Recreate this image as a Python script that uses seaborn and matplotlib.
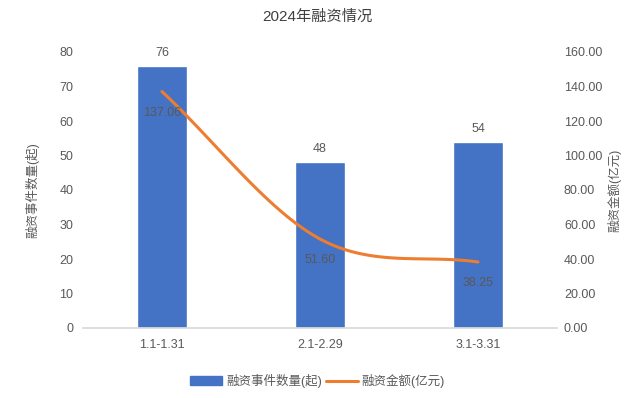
import numpy as np
import matplotlib
matplotlib.use("Agg")
import matplotlib.pyplot as plt
import seaborn as sns
from matplotlib.patches import Patch
from matplotlib.lines import Line2D

# Data
periods = ["1.1-1.31", "2.1-2.29", "3.1-3.31"]
counts = [76, 48, 54]
amounts = [137.06, 51.60, 38.25]

bar_color = "#4472C4"
line_color = "#ED7D31"
text_color = "#595959"

sns.set_theme(style="white")
plt.rcParams['font.family'] = ['Liberation Sans', 'Noto Sans CJK SC', 'DejaVu Sans']


def catmull_rom(xs, ys, n=60):
    # smooth path through the points (Excel-style smoothed line)
    xs = np.asarray(xs, float)
    ys = np.asarray(ys, float)
    px = np.concatenate([[2 * xs[0] - xs[1]], xs, [2 * xs[-1] - xs[-2]]])
    py = np.concatenate([[2 * ys[0] - ys[1]], ys, [2 * ys[-1] - ys[-2]]])
    out_x, out_y = [], []
    for i in range(1, len(px) - 2):
        t = np.linspace(0, 1, n)
        for arr, out in ((px, out_x), (py, out_y)):
            p0, p1, p2, p3 = arr[i - 1], arr[i], arr[i + 1], arr[i + 2]
            out.extend(0.5 * (2 * p1 + (-p0 + p2) * t
                              + (2 * p0 - 5 * p1 + 4 * p2 - p3) * t ** 2
                              + (-p0 + 3 * p1 - 3 * p2 + p3) * t ** 3))
    return np.array(out_x), np.array(out_y)


fig = plt.figure(figsize=(6.35, 3.98), dpi=100)
ax = fig.add_axes([83 / 635, 1 - 328 / 398, 474 / 635, 276 / 398])

sns.barplot(x=periods, y=counts, color=bar_color, width=0.32, saturation=1, ax=ax)
ax.set_xlim(-0.5, 2.5)
ax.set_ylim(0, 80)
ax.set_yticks(range(0, 81, 10))
ax.tick_params(axis='both', colors=text_color, labelsize=9, length=0)
ax.tick_params(axis='y', pad=7)
ax.tick_params(axis='x', pad=8)
for s in ["top", "right", "left"]:
    ax.spines[s].set_visible(False)
ax.spines["bottom"].set_color("#D9D9D9")
ax.set_xlabel("")
ax.set_ylabel("融资事件数量(起)", color=text_color, fontsize=9, labelpad=14)

for i, c in enumerate(counts):
    ax.annotate(str(c), (i, c), xytext=(0, 5), textcoords="offset points",
                ha="center", va="bottom", fontsize=9, color=text_color)

ax2 = ax.twinx()
ax2.set_ylim(0, 160)
ax2.set_yticks(range(0, 161, 20))
ax2.set_yticklabels([f"{v:.2f}" for v in range(0, 161, 20)])
ax2.tick_params(axis='y', colors=text_color, labelsize=9, length=0, pad=5)
for s in ax2.spines.values():
    s.set_visible(False)
ax2.set_ylabel("融资金额(亿元)", color=text_color, fontsize=9, labelpad=4)

sx, sy = catmull_rom(range(len(amounts)), amounts)
ax2.plot(sx, sy, color=line_color, lw=2.2, solid_capstyle="round")
for i, a in enumerate(amounts):
    ax2.annotate(f"{a:.2f}", (i, a), xytext=(0, -11), textcoords="offset points",
                 ha="center", va="top", fontsize=9, color=text_color)

fig.text(0.5, 1 - 17 / 398, "2024年融资情况", ha="center", va="center",
         fontsize=11, color="#404040")

handles = [Patch(color=bar_color), Line2D([0], [0], color=line_color, lw=2.2)]
fig.legend(handles, ["融资事件数量(起)", "融资金额(亿元)"], loc="center",
           bbox_to_anchor=(0.5, 1 - 381 / 398), ncol=2, frameon=False,
           fontsize=9, labelcolor=text_color, handlelength=2.6,
           handletextpad=0.3, columnspacing=0.3)

fig.savefig("out.png", dpi=100)
